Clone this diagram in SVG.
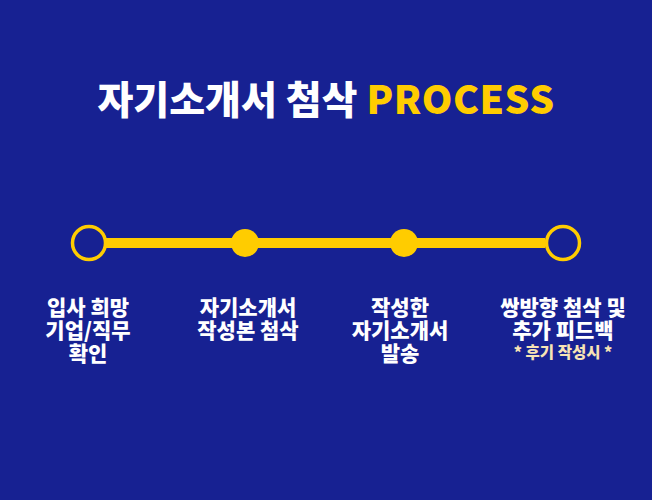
<svg xmlns="http://www.w3.org/2000/svg" width="652" height="500" viewBox="0 0 652 500">
<style>
.t{font-family:"Noto Sans CJK KR","Noto Sans",sans-serif;font-weight:900;text-anchor:middle}
.lbl{font-family:"Noto Sans CJK KR","Noto Sans",sans-serif;font-weight:900;font-size:21px;fill:#ffffff;text-anchor:middle}
.note{font-size:15.5px;fill:#f7e3b5}
.ring{fill:none;stroke:#ffcc00;stroke-width:3.5}
.dot{fill:#ffcc00}
</style>
<rect width="652" height="500" fill="#172192"/>
<text class="t" x="326" y="114" font-size="39" fill="#ffffff">자기소개서 첨삭 <tspan fill="#ffcc00" letter-spacing="0.5">PROCESS</tspan></text>
<g id="connectors">
<line x1="106" y1="243" x2="545" y2="243" stroke="#ffcc00" stroke-width="10"/>
</g>
<g id="step1">
<circle class="ring" cx="89" cy="243" r="16.5"/>
<text class="lbl"><tspan x="88" y="315">입사 희망</tspan><tspan x="88" y="338">기업/직무</tspan><tspan x="88" y="361">확인</tspan></text>
</g>
<g id="step2">
<circle class="dot" cx="245" cy="243" r="14"/>
<text class="lbl"><tspan x="248" y="315">자기소개서</tspan><tspan x="248" y="338">작성본 첨삭</tspan></text>
</g>
<g id="step3">
<circle class="dot" cx="404" cy="243" r="14"/>
<text class="lbl"><tspan x="400" y="315">작성한</tspan><tspan x="400" y="338">자기소개서</tspan><tspan x="400" y="361">발송</tspan></text>
</g>
<g id="step4">
<circle class="ring" cx="563" cy="243" r="16.5"/>
<text class="lbl"><tspan x="563" y="315">쌍방향 첨삭 및</tspan><tspan x="563" y="338">추가 피드백</tspan><tspan class="note" x="563" y="358">* 후기 작성시 *</tspan></text>
</g>
</svg>
